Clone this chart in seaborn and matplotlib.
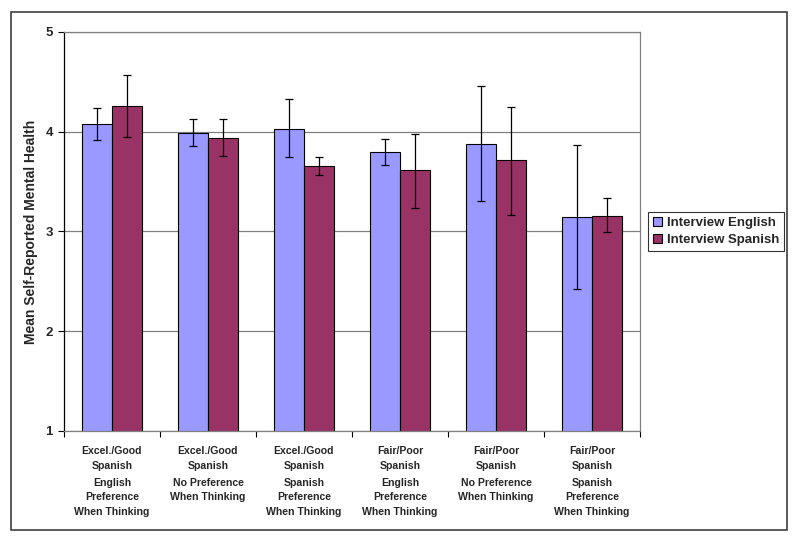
import pandas as pd
import matplotlib
matplotlib.use('Agg')
import matplotlib.pyplot as plt
import matplotlib.patches as mpatches
from matplotlib.container import BarContainer
from matplotlib.transforms import blended_transform_factory
import seaborn as sns

groups = ['Excel./Good\nSpanish', 'Excel./Good\nSpanish', 'Excel./Good\nSpanish',
          'Fair/Poor\nSpanish', 'Fair/Poor\nSpanish', 'Fair/Poor\nSpanish']
thinking = ['English\nPreference\nWhen Thinking', 'No Preference\nWhen Thinking',
            'Spanish\nPreference\nWhen Thinking', 'English\nPreference\nWhen Thinking',
            'No Preference\nWhen Thinking', 'Spanish\nPreference\nWhen Thinking']
series = ['Interview English', 'Interview Spanish']

english_mean = [4.08, 3.99, 4.03, 3.80, 3.88, 3.145]
english_low = [3.92, 3.86, 3.75, 3.67, 3.31, 2.42]
english_high = [4.24, 4.13, 4.33, 3.93, 4.46, 3.87]

spanish_mean = [4.26, 3.94, 3.66, 3.62, 3.72, 3.16]
spanish_low = [3.95, 3.76, 3.57, 3.24, 3.17, 2.99]
spanish_high = [4.57, 4.13, 3.75, 3.98, 4.25, 3.34]

colors = ['#9999FF', '#993366']

cats = [str(i) for i in range(len(groups))]
df = pd.DataFrame({
    'cat': cats * 2,
    'Interview': [series[0]] * 6 + [series[1]] * 6,
    'mean': english_mean + spanish_mean,
})

sns.set_style('white')
plt.rcParams['font.family'] = ['Liberation Sans', 'DejaVu Sans']
plt.rcParams['font.weight'] = 'bold'

fig = plt.figure(figsize=(8, 5.45), dpi=100)
ax = fig.add_axes([0.08, 0.2092, 0.72, 0.7321])

sns.barplot(data=df, x='cat', y='mean', hue='Interview', palette=colors,
            width=0.625, edgecolor='black', linewidth=0.8, saturation=1,
            errorbar=None, ax=ax, legend=False)

lows = [english_low, spanish_low]
highs = [english_high, spanish_high]
means = [english_mean, spanish_mean]
bar_conts = [c for c in ax.containers if isinstance(c, BarContainer)]
for k, cont in enumerate(bar_conts):
    xs = [p.get_x() + p.get_width() / 2 for p in cont]
    yerr = [[m - l for m, l in zip(means[k], lows[k])],
            [h - m for m, h in zip(means[k], highs[k])]]
    ax.errorbar(xs, means[k], yerr=yerr, fmt='none', ecolor='black',
                elinewidth=0.9, capsize=3, capthick=0.9, zorder=5)

ax.set_ylim(1, 5)
ax.set_xlim(-0.5, 5.5)
ax.set_yticks([1, 2, 3, 4, 5])
ax.set_yticklabels(['1', '2', '3', '4', '5'], fontsize=9.5, fontweight='bold')
ax.yaxis.grid(True, color='#808080', linewidth=0.9)
ax.set_axisbelow(True)
ax.tick_params(axis='y', direction='out', length=4, width=0.8, color='black', left=True, pad=4)
ax.set_xticks(range(6))
ax.set_xticklabels(groups, fontsize=7.6, fontweight='bold', linespacing=1.6)
ax.tick_params(axis='x', length=0, pad=11)
ax.set_xticks([i + 0.5 for i in range(-1, 6)], minor=True)
ax.tick_params(axis='x', which='minor', direction='out', length=4, width=0.8, color='black', bottom=True)

trans = blended_transform_factory(ax.transData, ax.transAxes)
for i, t in enumerate(thinking):
    ax.annotate(t, xy=(i, 0), xycoords=trans, xytext=(0, -33.5), textcoords='offset points',
                ha='center', va='top', fontsize=7.6, fontweight='bold', linespacing=1.6)

ax.set_xlabel('')
ax.set_ylabel('Mean Self-Reported Mental Health', fontsize=10, fontweight='bold', labelpad=5)

for s in ['top', 'right', 'bottom']:
    ax.spines[s].set_color('#808080')
    ax.spines[s].set_linewidth(0.9)
ax.spines['left'].set_color('black')
ax.spines['left'].set_linewidth(0.9)

handles = [mpatches.Patch(facecolor=c, edgecolor='black', linewidth=0.8) for c in colors]
leg = ax.legend(handles, series, loc='center', bbox_to_anchor=(0.895, 0.575),
                bbox_transform=fig.transFigure, frameon=True, fancybox=False,
                prop={'family': 'Liberation Sans', 'weight': 'bold', 'size': 9.5},
                handlelength=0.7, handleheight=0.7, handletextpad=0.4,
                borderpad=0.35, labelspacing=0.35, borderaxespad=0)
leg.get_frame().set_edgecolor('black')
leg.get_frame().set_linewidth(0.8)

fig.patches.append(mpatches.Rectangle((11 / 800, 1 - 530 / 545), 776 / 800, 518 / 545,
                                      transform=fig.transFigure, fill=False,
                                      edgecolor='#404040', linewidth=1.2))

fig.savefig('out.png', dpi=100)
